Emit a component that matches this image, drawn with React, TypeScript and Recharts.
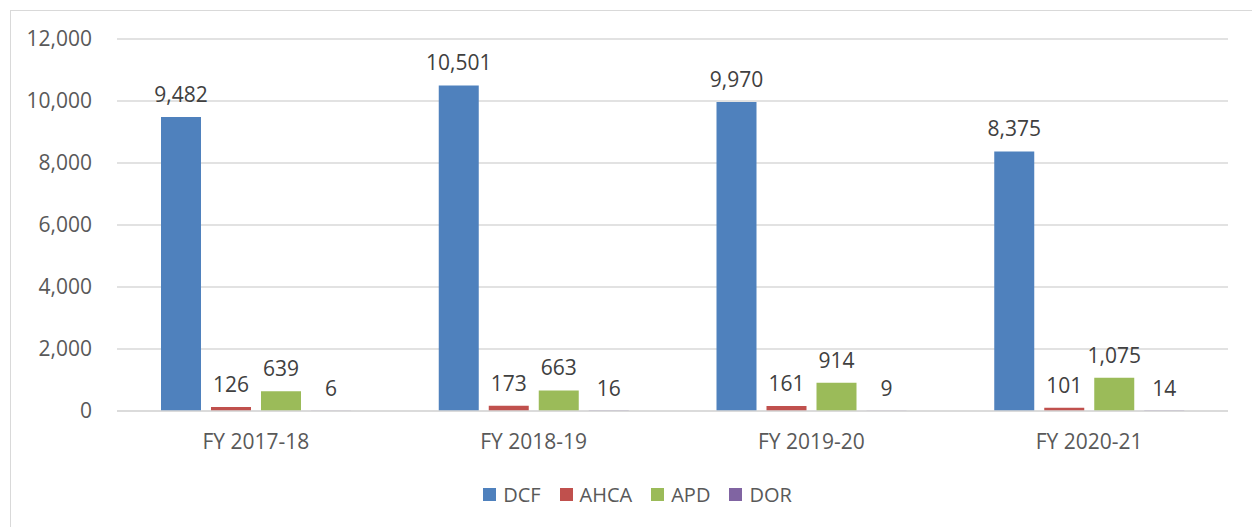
import {
  Bar,
  BarChart,
  CartesianGrid,
  LabelList,
  Legend,
  XAxis,
  YAxis,
} from "recharts";

// fiscal years and referral counts per agency
const years = ["FY 2017-18", "FY 2018-19", "FY 2019-20", "FY 2020-21"];
const dcf = [9482, 10501, 9970, 8375];
const ahca = [126, 173, 161, 101];
const apd = [639, 663, 914, 1075];
const dor = [6, 16, 9, 14];
const yTicks = [0, 2000, 4000, 6000, 8000, 10000, 12000];

const series = [
  { key: "DCF", color: "#4F81BD" },
  { key: "AHCA", color: "#C0504D" },
  { key: "APD", color: "#9BBB59" },
  { key: "DOR", color: "#8064A2" },
];

const data = years.map((year, i) => ({
  year,
  DCF: dcf[i],
  AHCA: ahca[i],
  APD: apd[i],
  DOR: dor[i],
}));

const FONT = "'Open Sans', 'Liberation Sans', sans-serif";
const fmt = (v: any) => Number(v).toLocaleString("en-US");

// legend keeps series order (recharts sorts payload otherwise)
function LegendRow() {
  return (
    <div
      style={{
        display: "flex",
        justifyContent: "center",
        alignItems: "center",
        fontFamily: FONT,
        fontSize: 20,
        color: "#595959",
        height: 24,
        paddingLeft: 42,
      }}
    >
      {series.map((s) => (
        <div key={s.key} style={{ display: "flex", alignItems: "center", marginRight: 19 }}>
          <span style={{ width: 13, height: 13, background: s.color, marginRight: 7, display: "inline-block" }} />
          <span>{s.key}</span>
        </div>
      ))}
    </div>
  );
}

export default function App() {
  return (
    <div
      style={{
        position: "absolute",
        left: 0,
        top: 0,
        width: 1252,
        height: 527,
        background: "#fff",
        overflow: "hidden",
      }}
    >
      <div
        style={{
          position: "absolute",
          left: 10,
          top: 10,
          width: 1260,
          height: 540,
          borderLeft: "1.5px solid #d9d9d9",
          borderTop: "1.5px solid #d9d9d9",
        }}
      />
      <BarChart
        width={1252}
        height={527}
        data={data}
        margin={{ top: 39, right: 24, left: 0, bottom: 62 }}
        barCategoryGap={44}
        barGap={10}
        style={{ position: "absolute", left: 0, top: 0 }}
      >
        <CartesianGrid vertical={false} stroke="#d9d9d9" strokeWidth={1.5} />
        <XAxis
          dataKey="year"
          height={30}
          tickLine={false}
          axisLine={{ stroke: "#d9d9d9", strokeWidth: 1.5 }}
          tickMargin={17}
          tick={{ fontSize: 21, fill: "#595959", fontFamily: FONT }}
        />
        <YAxis
          width={117}
          domain={[0, 12000]}
          ticks={yTicks}
          tickFormatter={fmt}
          tickLine={false}
          axisLine={false}
          tickMargin={19}
          tick={{ fontSize: 21, fill: "#595959", fontFamily: FONT }}
        />
        <Legend
          verticalAlign="bottom"
          content={<LegendRow />}
          wrapperStyle={{ top: 482, bottom: "auto", left: 0, width: 1252 }}
        />
        {series.map((s) => (
          <Bar key={s.key} dataKey={s.key} fill={s.color} isAnimationActive={false}>
            <LabelList
              dataKey={s.key}
              position="top"
              offset={15}
              formatter={fmt}
              style={{ fontSize: 21, fill: "#404040", fontFamily: FONT }}
            />
          </Bar>
        ))}
      </BarChart>
    </div>
  );
}
